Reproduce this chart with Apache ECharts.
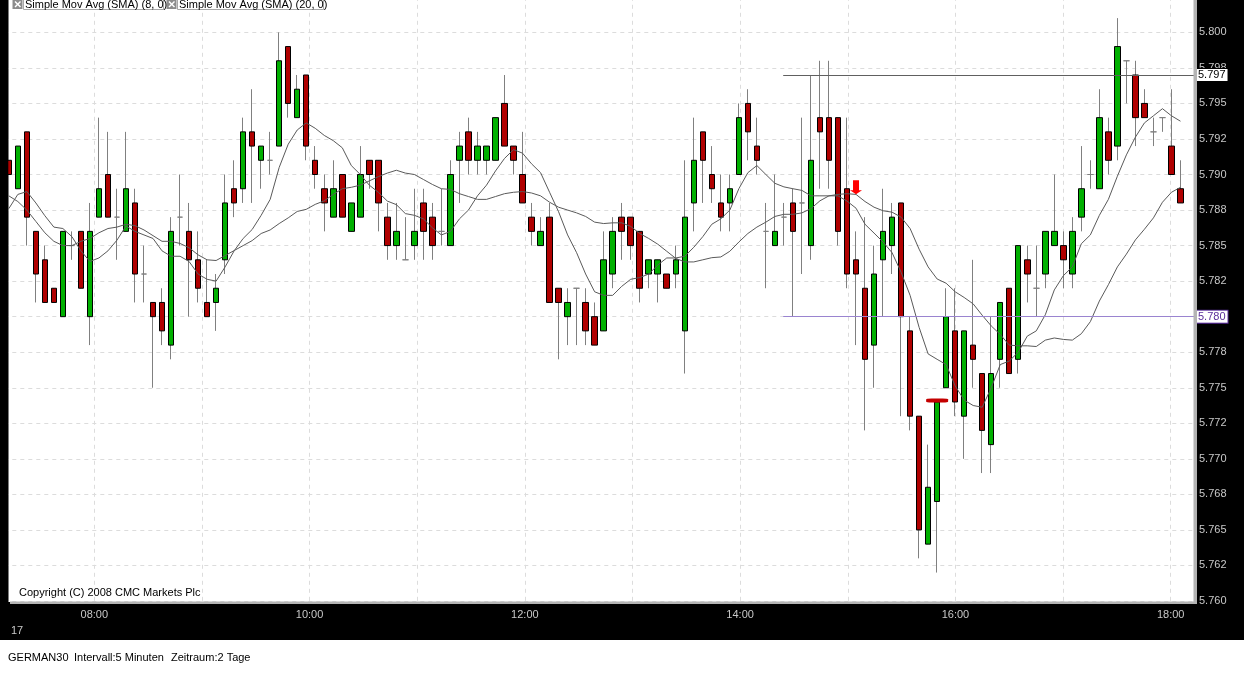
<!DOCTYPE html>
<html><head><meta charset="utf-8">
<script src="https://cdn.jsdelivr.net/npm/echarts@6.0.0/dist/echarts.min.js"></script>
<style>html,body{margin:0;padding:0;background:#000;}#c{width:1244px;height:675px;}</style>
</head><body><div id="c"></div>
<script>
// ---------- data ----------
const times = ['07:15','07:20','07:25','07:30','07:35','07:40','07:45','07:50','07:55',
'08:00','08:05','08:10','08:15','08:20','08:25','08:30','08:35','08:40','08:45','08:50','08:55',
'09:00','09:05','09:10','09:15','09:20','09:25','09:30','09:35','09:40','09:45','09:50','09:55',
'10:00','10:05','10:10','10:15','10:20','10:25','10:30','10:35','10:40','10:45','10:50','10:55',
'11:00','11:05','11:10','11:15','11:20','11:25','11:30','11:35','11:40','11:45','11:50','11:55',
'12:00','12:05','12:10','12:15','12:20','12:25','12:30','12:35','12:40','12:45','12:50','12:55',
'13:00','13:05','13:10','13:15','13:20','13:25','13:30','13:35','13:40','13:45','13:50','13:55',
'14:00','14:05','14:10','14:15','14:20','14:25','14:30','14:35','14:40','14:45','14:50','14:55',
'15:00','15:05','15:10','15:15','15:20','15:25','15:30','15:35','15:40','15:45','15:50','15:55',
'16:00','16:05','16:10','16:15','16:20','16:25','16:30','16:35','16:40','16:45','16:50','16:55',
'17:00','17:05','17:10','17:15','17:20','17:25','17:30','17:35','17:40','17:45','17:50','17:55',
'18:00','18:05'];
const openP = [5791,5789,5793,5786,5784,5782,5780,5785,5786,5780,
5787,5790,5787,5786,5788,5783,5781,5781,5778,5787,
5786,5784,5781,5781,5784,5789,5789,5793,5791,5791,
5792,5799,5794,5797,5791,5789,5787,5790,5786,5787,
5791,5791,5787,5785,5784,5785,5788,5787,5786,5785,
5791,5793,5791,5791,5791,5795,5792,5790,5787,5785,
5787,5782,5780,5782,5781,5780,5779,5783,5787,5787,
5786,5783,5783,5783,5783,5779,5788,5793,5790,5788,
5788,5790,5795,5792,5786,5785,5787,5788,5788,5785,
5794,5794,5794,5789,5784,5782,5778,5784,5785,5788,
5779,5773,5764,5767,5775,5779,5773,5778,5776,5771,
5777,5782,5777,5784,5782,5783,5785,5785,5783,5787,
5790,5789,5793,5792,5798,5797,5795,5793,5794,5792,
5789];
const closeP = [5790,5792,5787,5783,5781,5781,5786,5785,5782,5786,
5789,5787,5787,5789,5783,5783,5780,5779,5786,5787,
5784,5782,5780,5782,5788,5788,5793,5792,5792,5791,
5798,5795,5796,5792,5790,5788,5789,5787,5788,5790,
5790,5788,5785,5786,5784,5786,5786,5785,5786,5790,
5792,5791,5792,5792,5794,5792,5791,5788,5786,5786,
5781,5781,5781,5782,5779,5778,5784,5786,5786,5785,
5782,5784,5784,5782,5784,5787,5791,5791,5789,5787,
5789,5794,5793,5791,5786,5786,5787,5786,5788,5791,
5793,5791,5786,5783,5783,5777,5783,5786,5787,5780,
5773,5765,5768,5774,5780,5774,5779,5777,5772,5776,
5781,5776,5785,5783,5782,5786,5786,5784,5786,5789,
5790,5794,5791,5799,5798,5794,5794,5793,5794,5790,
5788];
const lowP = [5790,5789,5785,5781,5781,5781,5780,5784,5782,5778,
5787,5787,5784,5786,5781,5781,5775,5778,5777,5785,
5780,5781,5780,5779,5783,5787,5788,5788,5789,5790,
5792,5794,5794,5791,5789,5786,5787,5787,5786,5787,
5789,5786,5784,5784,5784,5784,5784,5784,5785,5785,
5788,5790,5790,5790,5791,5792,5790,5788,5785,5785,
5781,5777,5778,5778,5778,5778,5779,5782,5784,5784,
5781,5782,5781,5782,5782,5776,5786,5788,5788,5786,
5786,5790,5791,5790,5782,5785,5785,5780,5783,5784,
5789,5789,5785,5782,5778,5772,5775,5780,5783,5773,
5772,5763,5764,5762,5775,5773,5770,5775,5769,5769,
5775,5776,5776,5781,5780,5782,5785,5782,5782,5786,
5789,5789,5790,5791,5795,5792,5794,5792,5793,5790,
5788];
const highP = [5791,5792,5793,5786,5785,5782,5786,5786,5786,5788,
5794,5793,5789,5793,5789,5785,5781,5782,5787,5790,
5788,5786,5784,5783,5790,5791,5794,5796,5792,5793,
5800,5799,5797,5797,5792,5790,5791,5790,5788,5792,
5791,5791,5788,5788,5787,5789,5789,5788,5789,5791,
5793,5794,5793,5792,5794,5797,5792,5793,5788,5787,
5788,5782,5782,5782,5782,5781,5786,5787,5788,5787,
5786,5784,5784,5783,5785,5791,5794,5793,5792,5790,
5790,5795,5796,5794,5788,5790,5788,5789,5794,5797,
5798,5798,5794,5794,5786,5787,5785,5789,5788,5788,
5780,5773,5771,5774,5782,5782,5779,5784,5776,5780,
5781,5782,5785,5785,5785,5786,5790,5786,5787,5792,
5791,5796,5794,5801,5798,5798,5796,5794,5794,5796,
5791];
const sma8 = [5787.6,5788.6,5788.8,5788.0,5787.1,5786.3,5786.2,5785.63,5784.63,5783.88,
5784.13,5784.63,5785.38,5786.38,5786.0,5785.75,5785.5,5784.63,5784.25,5784.25,
5783.88,5783.0,5782.63,5782.5,5783.5,5784.63,5785.5,5786.13,5787.13,5788.25,
5790.5,5792.13,5793.13,5793.63,5793.25,5792.75,5792.38,5791.88,5790.63,5790.0,
5789.25,5788.75,5788.13,5787.88,5787.25,5787.13,5786.88,5786.25,5785.75,5786.0,
5786.88,5787.5,5788.5,5789.25,5790.25,5791.13,5791.75,5791.5,5790.75,5790.13,
5788.75,5787.38,5785.75,5784.5,5783.0,5781.75,5781.5,5781.5,5782.13,5782.63,
5782.75,5783.0,5783.63,5784.13,5784.13,5784.25,5784.88,5785.63,5786.5,5786.88,
5787.5,5789.0,5790.13,5790.63,5790.0,5789.38,5789.13,5789.0,5788.88,5788.5,
5788.5,5788.5,5788.5,5788.13,5787.63,5786.5,5785.88,5785.25,5784.5,5783.13,
5781.5,5779.25,5777.38,5777.0,5776.63,5775.13,5774.13,5773.75,5773.63,5775.0,
5776.63,5776.88,5777.5,5778.63,5779.0,5780.13,5781.88,5782.88,5783.5,5785.13,
5785.75,5787.13,5788.25,5789.88,5791.38,5792.63,5793.63,5794.13,5794.63,5794.13,
5793.75];
const sma20 = [5788.5,5788.1,5787.5,5786.7,5785.9,5785.3,5785.0,5785.0,5785.3,5785.5,
5785.9,5786.2,5786.3,5786.5,5786.4,5786.1,5785.7,5785.3,5785.3,5785.15,
5784.85,5784.35,5784.0,5783.95,5784.3,5784.65,5785.0,5785.35,5785.85,5786.1,
5786.55,5786.95,5787.4,5787.55,5787.9,5788.15,5788.6,5789.0,5789.1,5789.25,
5789.55,5789.85,5790.1,5790.3,5790.1,5790.0,5789.65,5789.3,5789.0,5788.95,
5788.65,5788.45,5788.25,5788.25,5788.45,5788.65,5788.75,5788.8,5788.7,5788.5,
5788.05,5787.7,5787.5,5787.3,5787.05,5786.65,5786.55,5786.6,5786.6,5786.35,
5785.85,5785.5,5785.1,5784.6,5784.1,5783.85,5783.85,5784.0,5784.15,5784.2,
5784.6,5785.25,5785.85,5786.3,5786.65,5787.05,5787.2,5787.2,5787.3,5787.6,
5788.15,5788.5,5788.6,5788.65,5788.6,5788.1,5787.7,5787.45,5787.35,5787.0,
5786.2,5784.75,5783.5,5782.65,5782.35,5781.75,5781.35,5780.9,5780.1,5779.35,
5778.75,5778.0,5777.95,5777.95,5777.9,5778.35,5778.5,5778.4,5778.35,5778.8,
5779.65,5781.1,5782.25,5783.5,5784.4,5785.4,5786.15,5786.95,5788.05,5788.75,
5789.1];
const yTickLabels = ['5.760','5.762','5.765','5.768','5.770','5.772','5.775','5.778','5.780',
'5.782','5.785','5.788','5.790','5.792','5.795','5.798','5.800','5.802'];
const hourLabels = {8:'08:00',10:'10:00',12:'12:00',14:'14:00',16:'16:00',18:'18:00'};
const levelHigh = 5797;     // drawn horizontal line
const levelLow = 5780;      // drawn purple line
const levelStartTime = 14.4; // hours, where the drawn lines start
const arrowAt = {cat: '15:05', price: 5789.1};
const markerAt = {cat: '15:50', price: 5774.1};

// ---------- layout / style ----------
const FONT = '"Liberation Sans", Arial, sans-serif';
const hourMin = 7.1639, hourMax = 18.2165;
const priceMin = 5760, priceMax = 5802.5;
const fmtPrice = v => (v / 1000).toFixed(3);
const lastClose = closeP[closeP.length - 1];
const gridDash = {color: '#dcdcdc', type: [4, 4], width: 1};

const wickData = times.map((t, i) => [openP[i], closeP[i], lowP[i], highP[i]]);
const bodyData = times.map((t, i) => [openP[i], closeP[i], Math.min(openP[i], closeP[i]), Math.max(openP[i], closeP[i])]);

const chart = echarts.init(document.getElementById('c'), null, {width: 1244, height: 675});
const priceLabel = (txt, color) => ({
  show: true, position: 'end', distance: 2, formatter: () => txt,
  color: color, backgroundColor: '#fff', borderColor: color, borderWidth: 1,
  padding: [1, 2, 0, 2], fontSize: 11, fontFamily: FONT
});

chart.setOption({
  animation: false,
  backgroundColor: '#000',
  grid: {left: 4.3, right: 50, top: -3.2, bottom: 74, outerBoundsMode: 'none', containLabel: false},
  xAxis: [
    {type: 'category', data: times.concat(['']), show: false, boundaryGap: true},
    {type: 'value', min: hourMin, max: hourMax, splitNumber: 5, position: 'bottom',
     axisLine: {show: false}, axisTick: {show: false},
     axisLabel: {color: '#c8c8c8', fontSize: 11, fontFamily: FONT, margin: 8,
       formatter: v => { const k = Math.round(v); return Math.abs(v - k) < 1e-6 ? (hourLabels[k] || '') : ''; }},
     splitLine: {show: true, lineStyle: gridDash},
     minorTick: {show: false, splitNumber: 2},
     minorSplitLine: {show: true, lineStyle: gridDash}}
  ],
  yAxis: {type: 'value', position: 'right', min: priceMin, max: priceMax, interval: 2.5,
    axisLine: {show: false}, axisTick: {show: false},
    axisLabel: {color: '#c8c8c8', fontSize: 11, fontFamily: FONT, margin: 5,
      formatter: v => yTickLabels[Math.round((v - priceMin) / 2.5)] || ''},
    splitLine: {show: true, lineStyle: gridDash}},
  series: [
    {name: 'wick', type: 'candlestick', xAxisIndex: 0, data: wickData, barWidth: 1, silent: true,
     itemStyle: {color: '#808080', color0: '#808080', borderColor: '#808080', borderColor0: '#808080', borderColorDoji: '#808080', borderWidth: 1}},
    {name: 'body', type: 'candlestick', xAxisIndex: 0, data: bodyData, barWidth: 6, silent: true,
     itemStyle: {color: '#00b000', color0: '#b00000', borderColor: '#000', borderColor0: '#000', borderColorDoji: '#808080', borderWidth: 1},
     markPoint: {silent: true, animation: false, label: {show: false},
       data: [
         {coord: [arrowAt.cat, arrowAt.price], symbol: 'path://M3,0 L9,0 L9,9.5 L12,9.5 L6,13.5 L0,9.5 L3,9.5 Z', symbolSize: [12, 14], itemStyle: {color: '#ff0000'}},
         {coord: [markerAt.cat, markerAt.price], symbol: 'roundRect', symbolSize: [22, 4], itemStyle: {color: '#c40000'}}
       ]}},
    {name: 'SMA 8', type: 'line', xAxisIndex: 0, data: sma8, symbol: 'none', silent: true,
     lineStyle: {color: '#5a5a5a', width: 1}},
    {name: 'SMA 20', type: 'line', xAxisIndex: 0, data: sma20, symbol: 'none', silent: true,
     lineStyle: {color: '#5a5a5a', width: 1}},
    {name: 'levels', type: 'line', xAxisIndex: 1, data: [], silent: true, clip: false,
     markLine: {silent: true, animation: false, symbol: ['none', 'none'],
       data: [
         [{coord: [levelStartTime, levelHigh], lineStyle: {color: '#606060', width: 1, type: 'solid'}, label: priceLabel(fmtPrice(levelHigh), '#000')},
          {coord: [hourMax, levelHigh]}],
         [{coord: [levelStartTime, levelLow], lineStyle: {color: '#9a84d0', width: 1, type: 'solid'}, label: priceLabel(fmtPrice(levelLow), '#5a2d9a')},
          {coord: [hourMax, levelLow]}],
         {yAxis: lastClose, lineStyle: {opacity: 0}, label: priceLabel(fmtPrice(lastClose), '#c00000')}
       ]}}
  ],
  graphic: [
    {type: 'rect', z: -10, shape: {x: 8.3, y: 0, width: 1186, height: 602}, style: {fill: '#fff'}},
    {type: 'rect', z: -10, shape: {x: 0, y: 640, width: 1244, height: 35}, style: {fill: '#fff'}},
    {type: 'rect', z: 100, shape: {x: 0, y: 0, width: 8.3, height: 604}, style: {fill: '#000'}},
    {type: 'rect', z: 100, shape: {x: 1193.5, y: 0, width: 3.5, height: 604}, style: {fill: '#b4b4b4'}},
    {type: 'rect', z: 100, shape: {x: 10, y: 601.5, width: 1187, height: 2.5}, style: {fill: '#b4b4b4'}},
    // legend buttons
    {type: 'rect', z: 100, shape: {x: 12.5, y: 0, width: 10, height: 9}, style: {fill: '#8c8c8c'}},
    {type: 'line', z: 101, shape: {x1: 15, y1: 1.5, x2: 20.5, y2: 7}, style: {stroke: '#fff', lineWidth: 1.5}},
    {type: 'line', z: 101, shape: {x1: 20.5, y1: 1.5, x2: 15, y2: 7}, style: {stroke: '#fff', lineWidth: 1.5}},
    {type: 'rect', z: 100, shape: {x: 23.5, y: -1, width: 140, height: 10.5}, style: {fill: '#fff', stroke: '#a8a8a8', lineWidth: 1}},
    {type: 'text', z: 101, style: {text: 'Simple Mov Avg (SMA) (8, 0)', x: 25, y: 4.5, verticalAlign: 'middle', fill: '#000', font: '11px ' + FONT}},
    {type: 'rect', z: 100, shape: {x: 166.5, y: 0, width: 10, height: 9}, style: {fill: '#8c8c8c'}},
    {type: 'line', z: 101, shape: {x1: 169, y1: 1.5, x2: 174.5, y2: 7}, style: {stroke: '#fff', lineWidth: 1.5}},
    {type: 'line', z: 101, shape: {x1: 174.5, y1: 1.5, x2: 169, y2: 7}, style: {stroke: '#fff', lineWidth: 1.5}},
    {type: 'rect', z: 100, shape: {x: 177.5, y: -1, width: 146, height: 10.5}, style: {fill: '#fff', stroke: '#a8a8a8', lineWidth: 1}},
    {type: 'text', z: 101, style: {text: 'Simple Mov Avg (SMA) (20, 0)', x: 179, y: 4.5, verticalAlign: 'middle', fill: '#000', font: '11px ' + FONT}},
    // texts
    {type: 'text', z: 101, style: {text: 'Copyright (C) 2008 CMC Markets Plc', x: 19, y: 593, verticalAlign: 'middle', fill: '#000', font: '11px ' + FONT}},
    {type: 'text', z: 101, style: {text: '17', x: 11, y: 631, verticalAlign: 'middle', fill: '#c8c8c8', font: '11px ' + FONT}},
    {type: 'text', z: 101, style: {text: 'GERMAN30', x: 8, y: 657.5, verticalAlign: 'middle', fill: '#000', font: '11px ' + FONT}},
    {type: 'text', z: 101, style: {text: 'Intervall:5 Minuten', x: 74, y: 657.5, verticalAlign: 'middle', fill: '#000', font: '11px ' + FONT}},
    {type: 'text', z: 101, style: {text: 'Zeitraum:2 Tage', x: 171, y: 657.5, verticalAlign: 'middle', fill: '#000', font: '11px ' + FONT}}
  ]
});
</script></body></html>
